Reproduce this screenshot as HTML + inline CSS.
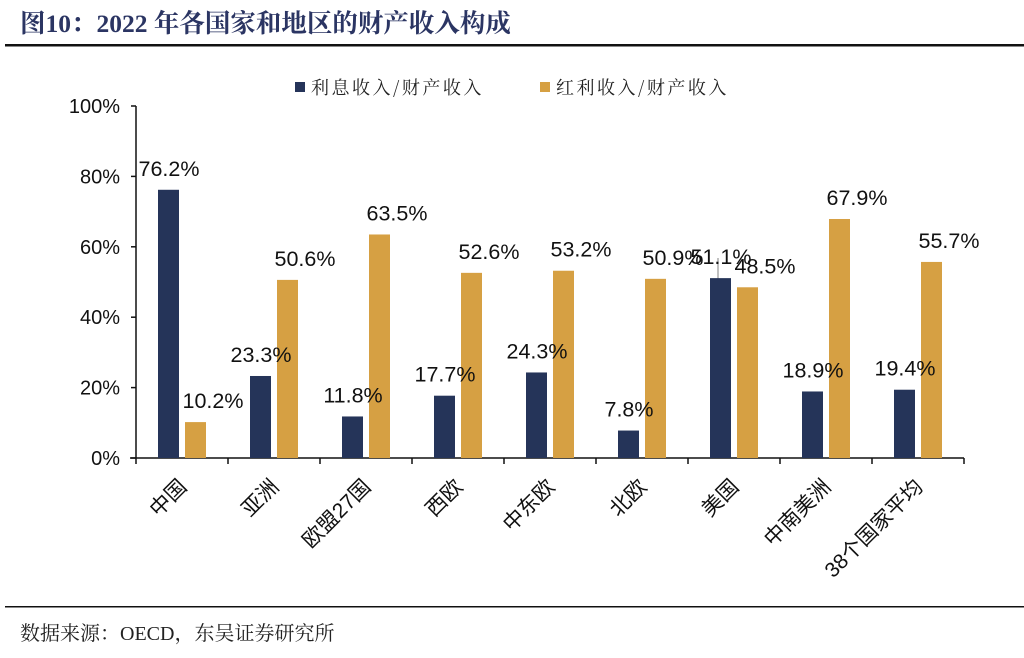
<!DOCTYPE html>
<html><head><meta charset="utf-8"><style>
body{margin:0;background:#fff;width:1024px;height:653px;overflow:hidden;font-family:"Liberation Sans","Noto Sans CJK SC",sans-serif}
</style></head><body>
<svg width="1024" height="653">
<text x="20" y="32" font-family="Liberation Serif,'Noto Serif CJK SC',serif" font-weight="bold" font-size="25.5" fill="#2b3563">图10：2022 年各国家和地区的财产收入构成</text>
<rect x="5" y="44" width="1019" height="2.5" fill="#111"/>
<rect x="5" y="606" width="1019" height="1.5" fill="#111"/>
<text x="20" y="640" font-family="Liberation Serif,'Noto Serif CJK SC',serif" font-size="20" fill="#222">数据来源：OECD，东吴证券研究所</text>
<g>
<rect x="295" y="82" width="10" height="10" fill="#253459"/>
<text x="311" y="94" font-size="18" letter-spacing="2.5" fill="#222" font-family="'Noto Serif CJK SC',serif">利息收入/财产收入</text>
<rect x="540" y="82" width="10" height="10" fill="#d6a043"/>
<text x="556" y="94" font-size="18" letter-spacing="2.5" fill="#222" font-family="'Noto Serif CJK SC',serif">红利收入/财产收入</text>
</g>
<line x1="718" y1="258" x2="718" y2="279" stroke="#aaa" stroke-width="1.5"/>
<g id="plot"></g>
</svg>
<script>
const categories=["中国","亚洲","欧盟27国","西欧","中东欧","北欧","美国","中南美洲","38个国家平均"];
const interest=[76.2,23.3,11.8,17.7,24.3,7.8,51.1,18.9,19.4];
const dividend=[10.2,50.6,63.5,52.6,53.2,50.9,48.5,67.9,55.7];
const yTicks=[0,20,40,60,80,100];
const NS="http://www.w3.org/2000/svg";
const g=document.getElementById('plot');
const x0=136,cw=92,y0=458,yTop=106;
const y=v=>y0-(v/100)*(y0-yTop);
const cx=i=>x0+cw*(i+0.5);
function mk(t,a){const e=document.createElementNS(NS,t);for(const k in a)e.setAttribute(k,a[k]);g.appendChild(e);return e;}
let ax=mk('line',{x1:x0,y1:yTop,x2:x0,y2:y0,stroke:'#111','stroke-width':1.5});


let bx=mk('line',{x1:130,y1:y0,x2:x0+cw*categories.length,y2:y0,stroke:'#111','stroke-width':1.5});


yTicks.forEach(t=>{
 let l=mk('line',{x1:x0-5,y1:y(t),x2:x0,y2:y(t),stroke:'#111','stroke-width':1.5});
 
 
 let tx=mk('text',{x:x0-16,y:y(t)+7,'text-anchor':'end','font-size':20,fill:'#111'});
 tx.textContent=t+'%';
 
 
});
for(let i=0;i<=categories.length;i++){
 let l=mk('line',{x1:x0+cw*i,y1:y0,x2:x0+cw*i,y2:y0+6,stroke:'#111','stroke-width':1.5});
 
 
}
categories.forEach((c,i)=>{
 const c0=cx(i);
 let b1=mk('rect',{x:c0-24,y:y(interest[i]),width:21,height:y0-y(interest[i]),fill:'#253459'});
 
 
 let b2=mk('rect',{x:c0+3,y:y(dividend[i]),width:21,height:y0-y(dividend[i]),fill:'#d6a043'});
 
 
 let t1=mk('text',{x:c0-13,y:y(interest[i])-14,'text-anchor':'middle','font-size':21.5,fill:'#111'});
 t1.textContent=interest[i].toFixed(1)+'%';
 
 
 let t2=mk('text',{x:c0+31,y:y(dividend[i])-14,'text-anchor':'middle','font-size':21.5,fill:'#111'});
 t2.textContent=dividend[i].toFixed(1)+'%';
 
 
 let lb=mk('text',{x:c0+6,y:y0+30,'text-anchor':'end','font-size':21,fill:'#111',transform:`rotate(-45 ${c0+6} ${y0+30})`});
 lb.textContent=c;
 
 
});
</script>
</body></html>
